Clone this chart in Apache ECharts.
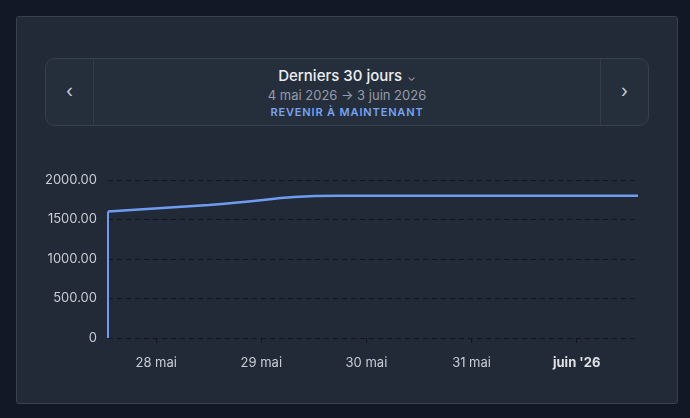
<!DOCTYPE html>
<html>
<head>
<meta charset="utf-8">
<script src="https://cdn.jsdelivr.net/npm/echarts@6/dist/echarts.min.js"></script>
<style>
  html, body { margin: 0; padding: 0; background: #121826; font-family: Inter, "Noto Sans", sans-serif; }
  #page { position: relative; width: 690px; height: 418px; overflow: hidden; }
  .card { position: absolute; left: 16px; top: 16px; width: 660px; height: 386px; background: #222a37; border: 1px solid #394150; border-radius: 3px; }
  .nav { position: absolute; left: 45px; top: 58px; width: 602px; height: 66px; background: #252e3b; border: 1px solid #374050; border-radius: 10px; }
  .nav .side { position: absolute; top: 0; width: 47px; height: 66px; color: #c9ced6; font-size: 18px; line-height: 64px; text-align: center; }
  .nav .left { left: 0; border-right: 1px solid #333b48; }
  .nav .right { right: 0; border-left: 1px solid #333b48; }
  .nav .title { position: absolute; left: 0; right: 0; top: 7px; text-align: center; color: #eceef1; font-size: 15px; font-weight: 500; }
  .nav .title span { color: #9aa1ad; font-size: 11px; font-weight: 400; margin-left: 5px; }
  .nav .range { position: absolute; left: 0; right: 0; top: 28px; text-align: center; color: #959cab; font-size: 13px; }
  .nav .back { position: absolute; left: 0; right: 0; top: 46px; text-align: center; color: #77a4f2; font-size: 11px; font-weight: 600; letter-spacing: 0.85px; }
  #chart { position: absolute; left: 0; top: 0; width: 690px; height: 418px; }
</style>
</head>
<body>
<div id="page">
  <div class="card"></div>
  <div class="nav">
    <div class="side left">&#8249;</div>
    <div class="title">Derniers 30 jours<span>&#8964;</span></div>
    <div class="range">4 mai 2026 → 3 juin 2026</div>
    <div class="back">REVENIR À MAINTENANT</div>
    <div class="side right">&#8250;</div>
  </div>
  <div id="chart"></div>
</div>
<script>
// valeurs
var times = ['2026-05-27T13:00', '2026-05-28T12:00', '2026-05-29T18:00', '2026-06-01T14:00'];
var values = [1600, 1685, 1800, 1800];
// saut initial depuis 0
var startTimes = [times[0], times[0]];
var startValues = [0, 1600];
var yTicks = [0, 500, 1000, 1500, 2000];
var moisCourts = ['janv.', 'févr.', 'mars', 'avr.', 'mai', 'juin', 'juil.', 'août', 'sept.', 'oct.', 'nov.', 'déc.'];

function pts(t, v) {
  return t.map(function (d, i) { return [new Date(d).getTime(), v[i]]; });
}

var chart = echarts.init(document.getElementById('chart'));
var option = {
  animation: false,
  grid: { left: 108, right: 52, top: 180, bottom: 80 },
  xAxis: {
    type: 'time',
    min: 'dataMin',
    max: 'dataMax',
    minInterval: 86400000,
    maxInterval: 86400000,
    axisLine: { show: false },
    axisTick: { show: true, length: 5, lineStyle: { color: '#11161e' } },
    splitLine: { show: false },
    axisLabel: {
      color: '#c9ced6',
      fontFamily: 'Inter',
      fontSize: 13,
      margin: 19,
      showMinLabel: false,
      showMaxLabel: false,
      formatter: function (val) {
        var d = new Date(val);
        if (d.getDate() === 1) {
          return '{b|' + moisCourts[d.getMonth()] + " '" + String(d.getFullYear()).slice(2) + '}';
        }
        return d.getDate() + ' ' + moisCourts[d.getMonth()];
      },
      rich: { b: { fontWeight: 'bold', color: '#dfe2e7', fontSize: 13, fontFamily: 'Inter' } }
    }
  },
  yAxis: {
    type: 'value',
    min: yTicks[0],
    max: yTicks[yTicks.length - 1],
    interval: 500,
    axisLine: { show: false },
    axisTick: { show: false },
    axisLabel: {
      color: '#c9ced6',
      fontFamily: 'Inter',
      fontSize: 13,
      margin: 11,
      formatter: function (v) { return v === 0 ? '0' : v.toFixed(2); }
    },
    splitLine: { lineStyle: { color: '#11161e', type: [5, 4], width: 1 } }
  },
  series: [{
    type: 'line',
    data: pts(startTimes, startValues),
    symbol: 'none',
    lineStyle: { color: '#6e9cf0', width: 2 }
  }, {
    type: 'line',
    data: pts(times, values),
    smooth: 0.5,
    symbol: 'none',
    lineStyle: { color: '#6e9cf0', width: 2.5 }
  }]
};
chart.setOption(option);
</script>
</body>
</html>
